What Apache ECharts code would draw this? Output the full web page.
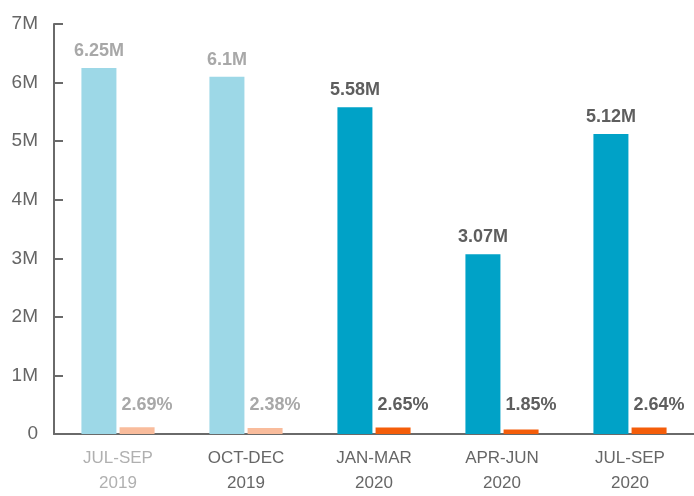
<!DOCTYPE html>
<html>
<head>
<meta charset="utf-8">
<script src="https://cdn.jsdelivr.net/npm/echarts@6/dist/echarts.min.js"></script>
<style>
  html, body { margin: 0; padding: 0; background: #fff; }
  #chart { width: 694px; height: 496px; }
</style>
</head>
<body>
<div id="chart"></div>
<script>
// quarters
const categories = ["JUL-SEP\n2019", "OCT-DEC\n2019", "JAN-MAR\n2020", "APR-JUN\n2020", "JUL-SEP\n2020"];
// blue bars, millions
const volumes = [6.25, 6.1, 5.58, 3.07, 5.12];
// orange bars, percent
const shares = [2.69, 2.38, 2.65, 1.85, 2.64];
// y tick labels
const yTicks = ["0", "1M", "2M", "3M", "4M", "5M", "6M", "7M"];
// 2019 quarters are drawn faded
const faded = [true, true, false, false, false];
const catColors = ["#b0b0b0", "#666666", "#666666", "#666666", "#666666"];

const FONT = "Liberation Sans";
const chart = echarts.init(document.getElementById("chart"));

const blueData = volumes.map(function (v, i) {
  return {
    value: v,
    itemStyle: { color: faded[i] ? "#9dd8e7" : "#00a2c7" },
    label: { color: faded[i] ? "#a8a8a8" : "#5e5e5e" }
  };
});
const orangeData = shares.map(function (v, i) {
  return {
    value: v,
    itemStyle: { color: faded[i] ? "#f9bc9c" : "#f45d0a" },
    label: { color: faded[i] ? "#a8a8a8" : "#5e5e5e" }
  };
});

chart.setOption({
  animation: false,
  textStyle: { fontFamily: FONT },
  grid: { left: 54, right: -3, top: 24, bottom: 62, containLabel: false },
  xAxis: {
    type: "category",
    data: categories.map(function (c, i) {
      return { value: c, textStyle: { color: catColors[i] } };
    }),
    axisLine: { lineStyle: { color: "#6a6a6a", width: 2 } },
    axisTick: { inside: true, length: 10, lineStyle: { color: "#6a6a6a", width: 2 } },
    axisLabel: { fontSize: 17, lineHeight: 25, margin: 12, fontFamily: FONT }
  },
  yAxis: [
    {
      type: "value",
      min: 0,
      max: 7,
      interval: 1,
      splitLine: { show: false },
      axisLine: { show: true, lineStyle: { color: "#6a6a6a", width: 2 } },
      axisTick: { show: true, inside: true, length: 9, lineStyle: { color: "#6a6a6a", width: 2 } },
      axisLabel: {
        fontSize: 19,
        color: "#666666",
        margin: 16,
        fontFamily: FONT,
        formatter: function (v) { return yTicks[Math.round(v)]; }
      }
    },
    {
      type: "value",
      min: 0,
      max: 165,
      show: false,
      splitLine: { show: false }
    }
  ],
  series: [
    {
      type: "bar",
      yAxisIndex: 0,
      data: blueData,
      barWidth: 35,
      barGap: "9%",
      label: {
        show: true,
        position: "top",
        distance: 8,
        fontSize: 18,
        fontWeight: 600,
        fontFamily: FONT,
        formatter: function (p) { return p.value + "M"; }
      }
    },
    {
      type: "bar",
      yAxisIndex: 1,
      data: orangeData,
      barWidth: 35,
      label: {
        show: true,
        position: "insideBottomLeft",
        distance: 0,
        offset: [2, -20],
        fontSize: 18,
        fontWeight: 600,
        fontFamily: FONT,
        formatter: function (p) { return p.value.toFixed(2) + "%"; }
      }
    }
  ]
});
</script>
</body>
</html>
